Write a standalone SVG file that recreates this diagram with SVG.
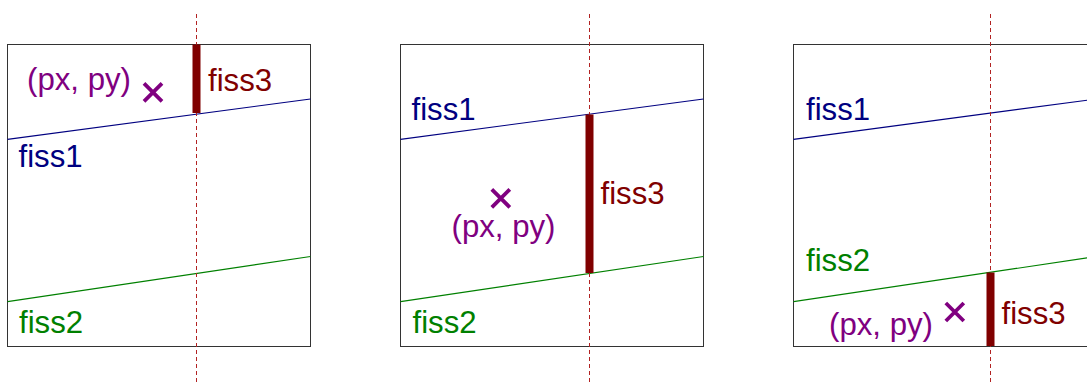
<svg xmlns="http://www.w3.org/2000/svg" width="1087" height="385" viewBox="0 0 1087 385">
<style>
  .frame{fill:none;stroke:#333;stroke-width:1}
  .f1{stroke:#000080;stroke-width:1.2;fill:none}
  .f2{stroke:#008000;stroke-width:1.2;fill:none}
  .cut{stroke:#b22222;stroke-width:1;stroke-dasharray:4 3;fill:none}
  .bar{fill:#800000}
  .mk{stroke:#800080;stroke-width:3.8;fill:none}
  text{font-family:"Liberation Sans",Arial,sans-serif;font-size:31.2px}
  .t1{fill:#000080}
  .t2{fill:#008000}
  .t3{fill:#800000}
  .tp{fill:#800080}
</style>
<rect width="1087" height="385" fill="#fff"/>
<g id="panel1">
  <rect class="frame" x="7.5" y="44.5" width="303" height="302"/>
  <line class="f1" x1="7.5" y1="139.3" x2="310.5" y2="99"/>
  <line class="f2" x1="7.5" y1="301.7" x2="310.5" y2="256.5"/>
  <line class="cut" x1="196.5" y1="14" x2="196.5" y2="385"/>
  <rect class="bar" x="192.5" y="44.5" width="8" height="68.5"/>
  <text class="t3" x="208" y="90.5">fiss3</text>
  <text class="t1" x="18.5" y="166.5">fiss1</text>
  <text class="t2" x="19" y="333">fiss2</text>
  <text class="tp" x="27" y="89.5">(px, py)</text>
  <path class="mk" d="M144,83.3 L162,101.3 M162,83.3 L144,101.3"/>
</g>
<g id="panel2">
  <rect class="frame" x="400.5" y="44.5" width="303" height="302"/>
  <line class="f1" x1="400.5" y1="139.3" x2="703.5" y2="99"/>
  <line class="f2" x1="400.5" y1="301.7" x2="703.5" y2="256.5"/>
  <line class="cut" x1="589.5" y1="14" x2="589.5" y2="385"/>
  <rect class="bar" x="585.5" y="114.5" width="8" height="158.5"/>
  <text class="t3" x="600.5" y="203.5">fiss3</text>
  <text class="t1" x="411.5" y="119.5">fiss1</text>
  <text class="t2" x="412.5" y="332.5">fiss2</text>
  <text class="tp" x="503.5" y="237" text-anchor="middle">(px, py)</text>
  <path class="mk" d="M491.8,189.3 L509.8,207.3 M509.8,189.3 L491.8,207.3"/>
</g>
<g id="panel3">
  <rect class="frame" x="793.5" y="44.5" width="303" height="302"/>
  <line class="f1" x1="793.5" y1="139.3" x2="1096.5" y2="99"/>
  <line class="f2" x1="793.5" y1="301.7" x2="1096.5" y2="256.5"/>
  <line class="cut" x1="990.5" y1="14" x2="990.5" y2="385"/>
  <rect class="bar" x="986.5" y="272.5" width="8" height="73.5"/>
  <text class="t3" x="1001.5" y="324">fiss3</text>
  <text class="t1" x="806" y="119.5">fiss1</text>
  <text class="t2" x="806" y="270.5">fiss2</text>
  <text class="tp" x="829" y="335">(px, py)</text>
  <path class="mk" d="M945.8,303 L963.8,321 M963.8,303 L945.8,321"/>
</g>
<g id="connectors"></g>
</svg>
